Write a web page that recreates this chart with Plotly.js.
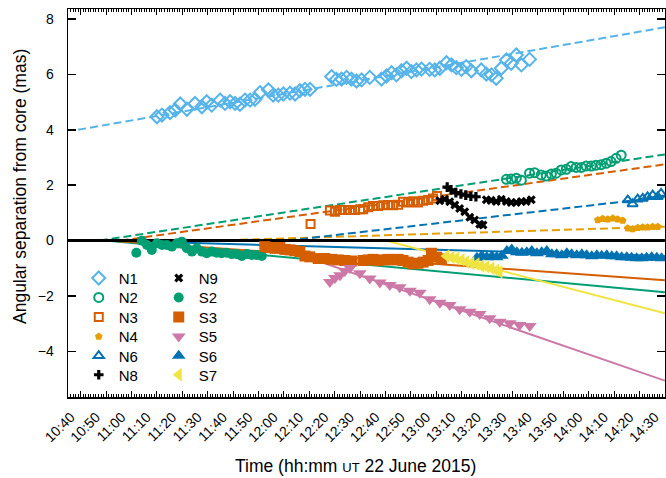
<!DOCTYPE html>
<html>
<head>
<meta charset="utf-8">
<script src="https://cdn.plot.ly/plotly-3.0.1.min.js"></script>
<style>
  html, body { margin: 0; padding: 0; background: #ffffff; }
  #chart { width: 666px; height: 478px; }
</style>
</head>
<body>
<div id="chart"></div>
<script>
// Epochs are minutes after 10:00 UT on 22 June 2015; separations are in mas.
const n1Time = [70.0, 72.0, 75.2, 77.2, 79.2, 81.8, 85.0, 87.7, 89.6, 91.6, 94.9, 96.8, 98.8, 100.8, 102.7, 104.7, 106.7, 108.6, 110.6, 113.9, 115.8, 117.8, 119.8, 122.4, 124.4, 126.3, 128.3, 130.3, 138.8, 140.7, 142.7, 144.7, 146.6, 148.6, 150.6, 153.8, 158.4, 160.4, 162.4, 164.3, 166.3, 168.3, 170.2, 172.2, 174.2, 177.4, 179.4, 181.4, 184.0, 186.0, 187.9, 189.9, 191.8, 193.8, 197.7, 199.7, 201.7, 203.6, 205.6, 207.6, 209.5, 211.5, 213.5, 216.7];
const n1Sep = [4.47, 4.53, 4.62, 4.71, 4.93, 4.74, 4.95, 4.83, 5.01, 4.89, 5.07, 4.95, 5.01, 4.95, 4.92, 5.07, 5.07, 5.10, 5.34, 5.44, 5.25, 5.25, 5.29, 5.32, 5.29, 5.41, 5.46, 5.46, 5.92, 5.82, 5.83, 5.89, 5.83, 5.76, 5.80, 5.89, 5.83, 5.94, 6.06, 5.98, 6.13, 6.22, 6.10, 6.16, 6.19, 6.18, 6.16, 6.22, 6.42, 6.34, 6.24, 6.18, 6.28, 6.13, 6.16, 6.01, 5.98, 5.86, 6.22, 6.52, 6.40, 6.70, 6.34, 6.54];

const n2Time = [207.6, 209.5, 211.5, 213.5, 216.7, 218.7, 221.3, 223.3, 225.3, 227.2, 229.2, 231.2, 233.1, 235.1, 237.1, 239.0, 241.0, 242.9, 244.9, 246.9, 248.8, 250.8, 252.8];
const n2Sep = [2.21, 2.22, 2.25, 2.18, 2.43, 2.45, 2.37, 2.33, 2.40, 2.43, 2.55, 2.57, 2.67, 2.64, 2.64, 2.69, 2.69, 2.72, 2.74, 2.79, 2.85, 2.97, 3.08];

const n3Time = [130.5, 138.1, 140.1, 142.1, 144.0, 146.0, 148.0, 150.0, 151.2, 153.2, 155.1, 157.1, 159.1, 161.0, 163.0, 165.0, 166.9, 168.9, 170.9, 172.8, 174.8, 176.8, 178.7, 180.3];
const n3Sep = [0.60, 1.08, 1.04, 1.10, 1.10, 1.10, 1.10, 1.13, 1.13, 1.20, 1.25, 1.25, 1.27, 1.28, 1.27, 1.29, 1.40, 1.37, 1.42, 1.37, 1.44, 1.46, 1.52, 1.61];

const n4Time = [243.6, 245.5, 247.5, 249.5, 251.4, 253.4, 255.4, 257.3, 259.3, 261.3, 263.2, 265.2, 267.2];
const n4Sep = [0.74, 0.79, 0.77, 0.80, 0.77, 0.72, 0.44, 0.42, 0.46, 0.48, 0.48, 0.50, 0.50];

const n6Time = [255.4, 257.3, 259.3, 261.3, 263.2, 265.2, 267.2, 268.5];
const n6Sep = [1.46, 1.32, 1.49, 1.52, 1.58, 1.64, 1.58, 1.70];

const n8Time = [184.3, 185.8, 187.7, 189.7, 191.6, 193.6, 195.6];
const n8Sep = [1.93, 1.83, 1.73, 1.68, 1.64, 1.60, 1.58];

const n9Time = [181.4, 183.3, 185.3, 187.3, 189.2, 191.2, 193.2, 195.1, 197.1, 198.4, 199.7, 201.6, 203.6, 205.6, 207.6, 209.5, 211.5, 213.5, 215.4, 217.4];
const n9Sep = [1.44, 1.49, 1.40, 1.28, 1.16, 1.04, 0.84, 0.74, 0.59, 0.56, 1.47, 1.45, 1.41, 1.49, 1.41, 1.37, 1.37, 1.41, 1.41, 1.47];

const s2Time = [61.9, 64.1, 66.1, 68.0, 70.0, 72.0, 73.9, 75.9, 77.9, 79.8, 81.8, 83.8, 85.7, 87.7, 89.6, 91.6, 93.6, 95.5, 97.5, 99.5, 101.5, 103.4, 105.4, 107.3, 109.3, 111.3];
const s2Sep = [-0.44, -0.01, -0.16, -0.34, -0.10, -0.16, -0.16, -0.22, -0.10, -0.04, -0.28, -0.40, -0.28, -0.40, -0.46, -0.40, -0.44, -0.46, -0.44, -0.49, -0.49, -0.56, -0.49, -0.52, -0.52, -0.56];

const s3Time = [112.5, 114.5, 116.5, 118.4, 120.4, 122.4, 124.3, 126.3, 128.3, 130.2, 133.5, 136.1, 138.8, 141.4, 144.0, 146.7, 151.2, 153.2, 155.1, 157.1, 159.1, 161.0, 163.0, 165.0, 166.9, 168.9, 170.9, 172.8, 174.8, 176.8, 178.1, 180.1, 182.0];
const s3Sep = [-0.22, -0.25, -0.28, -0.25, -0.32, -0.34, -0.37, -0.40, -0.56, -0.59, -0.65, -0.65, -0.68, -0.70, -0.72, -0.74, -0.72, -0.70, -0.68, -0.72, -0.70, -0.68, -0.70, -0.68, -0.72, -0.78, -0.84, -0.82, -0.78, -0.72, -0.46, -0.60, -0.66];

const s5Time = [138.1, 140.1, 142.1, 144.0, 146.0, 149.9, 153.8, 157.8, 161.7, 165.6, 169.6, 173.5, 177.4, 181.4, 185.3, 189.2, 193.2, 197.1, 201.0, 205.0, 208.9, 212.8, 216.8];
const s5Sep = [-1.50, -1.35, -1.25, -1.10, -0.99, -1.18, -1.37, -1.52, -1.61, -1.69, -1.81, -1.89, -2.12, -2.25, -2.33, -2.48, -2.57, -2.65, -2.81, -2.93, -2.99, -3.05, -3.09];

const s6Time = [196.0, 197.9, 199.9, 201.9, 203.8, 205.8, 207.8, 209.7, 211.7, 213.7, 215.6, 217.6, 219.6, 221.5, 223.5, 225.5, 227.4, 229.4, 231.4, 233.3, 235.3, 237.3, 239.2, 241.2, 243.2, 245.1, 247.1, 249.1, 251.0, 253.0, 255.0, 256.9, 258.9, 260.9, 262.8, 264.8, 266.8, 268.7];
const s6Sep = [-0.62, -0.55, -0.60, -0.57, -0.60, -0.55, -0.38, -0.32, -0.42, -0.44, -0.42, -0.38, -0.46, -0.42, -0.38, -0.50, -0.50, -0.53, -0.46, -0.50, -0.53, -0.50, -0.53, -0.57, -0.53, -0.55, -0.53, -0.57, -0.57, -0.60, -0.60, -0.62, -0.64, -0.64, -0.62, -0.60, -0.62, -0.64];

const s7Time = [184.0, 186.0, 187.9, 189.9, 191.8, 193.8, 195.8, 197.7, 199.7, 201.7, 203.6, 204.9];
const s7Sep = [-0.56, -0.61, -0.64, -0.70, -0.77, -0.82, -0.85, -0.92, -0.95, -1.00, -1.07, -1.13];

// Linear fits to the motions: [start, end] epoch and separation.
const n1FitTime = [39.0, 270.0], n1FitSep = [4.00, 7.70];
const n2FitTime = [47.5, 270.0], n2FitSep = [0, 3.11];
const n3FitTime = [55.7, 270.0], n3FitSep = [0, 2.75];
const n4FitTime = [93.3, 270.0], n4FitSep = [0, 0.50];
const n6FitTime = [121.7, 270.0], n6FitSep = [0, 1.58];
const s2FitTime = [49.7, 270.0], s2FitSep = [0, -1.87];
const s3FitTime = [50.5, 270.0], s3FitSep = [0, -1.43];
const s5FitTime = [110.0, 270.0], s5FitSep = [0, -5.06];
const s6FitTime = [50.0, 270.0], s6FitSep = [0, -0.56];
const s7FitTime = [160.0, 270.0], s7FitSep = [0, -2.63];
const coreTime = [35.0, 270.0], coreSep = [0, 0];

// Tick labels along the time axis, every ten minutes.
const tickMinutes = [40, 50, 60, 70, 80, 90, 100, 110, 120, 130, 140, 150, 160, 170, 180, 190, 200, 210, 220, 230, 240, 250, 260, 270];
const tickLabels = ['10:40', '10:50', '11:00', '11:10', '11:20', '11:30', '11:40', '11:50', '12:00', '12:10', '12:20', '12:30', '12:40', '12:50', '13:00', '13:10', '13:20', '13:30', '13:40', '13:50', '14:00', '14:10', '14:20', '14:30'];
const yTicks = [-4, -2, 0, 2, 4, 6, 8];

const pad = n => String(n).padStart(2, '0');
function stamp(m) {
  const s = Math.round(m * 60);
  const h = 10 + Math.floor(s / 3600);
  const mi = Math.floor((s % 3600) / 60);
  const se = s % 60;
  return `2015-06-22 ${pad(h)}:${pad(mi)}:${pad(se)}`;
}
const stamps = arr => arr.map(stamp);

const C = {
  sky: '#56B4E9', green: '#009E73', verm: '#D55E00', orange: '#E69F00',
  blue: '#0072B2', pink: '#CC79A7', yellow: '#F0E442', black: '#000000'
};

function fit(t, v, color, dash, width) {
  return {
    x: stamps(t), y: v, type: 'scatter', mode: 'lines', showlegend: false,
    hoverinfo: 'skip', line: { color: color, width: width || 2, dash: dash ? '8px,4px' : 'solid' }
  };
}

function pts(name, t, v, symbol, size, color, open, legend, rank) {
  const marker = { symbol: symbol, size: size, color: color };
  if (open) marker.line = { color: color, width: 2 };
  else marker.line = { width: 0 };
  return {
    name: name, x: stamps(t), y: v, type: 'scatter', mode: 'markers',
    marker: marker, legend: legend, legendrank: rank
  };
}

const traces = [
  fit(n1FitTime, n1FitSep, C.sky, true),
  fit(n2FitTime, n2FitSep, C.green, true),
  fit(n3FitTime, n3FitSep, C.verm, true),
  fit(n4FitTime, n4FitSep, C.orange, true),
  fit(n6FitTime, n6FitSep, C.blue, true),
  fit(s2FitTime, s2FitSep, C.green, false),
  fit(s3FitTime, s3FitSep, C.verm, false),
  fit(s5FitTime, s5FitSep, C.pink, false),
  fit(s6FitTime, s6FitSep, C.blue, false),
  fit(s7FitTime, s7FitSep, C.yellow, false),
  fit(coreTime, coreSep, C.black, false, 3),
  pts('S2', s2Time, s2Sep, 'circle', 10, C.green, false, 'legend2', 2),
  pts('S3', s3Time, s3Sep, 'square', 11, C.verm, false, 'legend3', 2),
  pts('S5', s5Time, s5Sep, 'triangle-down', 12, C.pink, false, 'legend4', 2),
  pts('S6', s6Time, s6Sep, 'triangle-up', 12, C.blue, false, 'legend5', 2),
  pts('S7', s7Time, s7Sep, 'triangle-left', 12, C.yellow, false, 'legend6', 2),
  pts('N1', n1Time, n1Sep, 'diamond-open', 10, C.sky, true, 'legend', 1),
  pts('N2', n2Time, n2Sep, 'circle-open', 9, C.green, true, 'legend2', 1),
  pts('N3', n3Time, n3Sep, 'square-open', 8, C.verm, true, 'legend3', 1),
  pts('N4', n4Time, n4Sep, 'pentagon', 8, C.orange, false, 'legend4', 1),
  pts('N6', n6Time, n6Sep, 'triangle-up-open', 9, C.blue, true, 'legend5', 1),
  pts('N8', n8Time, n8Sep, 'cross', 8, C.black, false, 'legend6', 1),
  pts('N9', n9Time, n9Sep, 'x', 8, C.black, false, 'legend', 2)
];

const font = { family: '"Liberation Sans", Arial, sans-serif', color: '#000000' };

// One legend per row so the two columns share row positions.
const rowY = [0.306, 0.256, 0.2054, 0.1554, 0.1057, 0.0567];
function legendRow(y) {
  return {
    orientation: 'h', x: 0.018, xanchor: 'left', y: y, yanchor: 'middle',
    bgcolor: 'rgba(0,0,0,0)', borderwidth: 0, entrywidth: 35, entrywidthmode: 'pixels',
    font: Object.assign({ size: 15 }, font), itemclick: false, itemdoubleclick: false
  };
}

const layout = {
  width: 666, height: 478,
  margin: { l: 68, r: 1, t: 9, b: 81 },
  paper_bgcolor: '#ffffff', plot_bgcolor: '#ffffff',
  font: Object.assign({ size: 14 }, font),
  showlegend: true,
  legend: legendRow(rowY[0]),
  legend2: legendRow(rowY[1]),
  legend3: legendRow(rowY[2]),
  legend4: legendRow(rowY[3]),
  legend5: legendRow(rowY[4]),
  legend6: legendRow(rowY[5]),
  xaxis: {
    type: 'date', range: [stamp(35), stamp(270.05)],
    tickmode: 'array', tickvals: stamps(tickMinutes), ticktext: tickLabels,
    tickangle: -45, ticks: 'inside', ticklen: 6, tickwidth: 1, tickcolor: '#000',
    ticklabelshift: -10, ticklabelstandoff: 5,
    minor: { dtick: 60000, tick0: stamp(40), ticks: 'inside', ticklen: 3, tickwidth: 1, tickcolor: '#000' },
    showline: true, linecolor: '#000', linewidth: 1.5, mirror: 'ticks',
    showgrid: false, zeroline: false, automargin: false,
    tickfont: Object.assign({ size: 14 }, font)
  },
  yaxis: {
    range: [-5.65, 8.36], tickmode: 'array', tickvals: yTicks,
    ticktext: yTicks.map(v => v < 0 ? '\u2212' + Math.abs(v) : String(v)),
    ticks: 'inside', ticklen: 8, tickwidth: 1.5, tickcolor: '#000',
    showline: true, linecolor: '#000', linewidth: 1.5, mirror: 'ticks',
    showgrid: false, zeroline: false, automargin: false, ticklabelstandoff: 10,
    tickfont: Object.assign({ size: 14 }, font)
  },
  annotations: [
    {
      text: 'Time (hh:mm <span style="font-size:13px">UT</span> 22 June 2015)',
      xref: 'paper', yref: 'paper', x: (355 - 68) / 597, y: (397 - 466) / 388,
      xanchor: 'center', yanchor: 'middle', showarrow: false,
      font: Object.assign({ size: 17.5 }, font)
    },
    {
      text: 'Angular separation from core (mas)', textangle: -90,
      xref: 'paper', yref: 'paper', x: (20 - 68) / 597, y: (397 - 187) / 388,
      xanchor: 'center', yanchor: 'middle', showarrow: false,
      font: Object.assign({ size: 17.5 }, font)
    }
  ]
};

Plotly.newPlot('chart', traces, layout, { staticPlot: true, displayModeBar: false });
</script>
</body>
</html>
